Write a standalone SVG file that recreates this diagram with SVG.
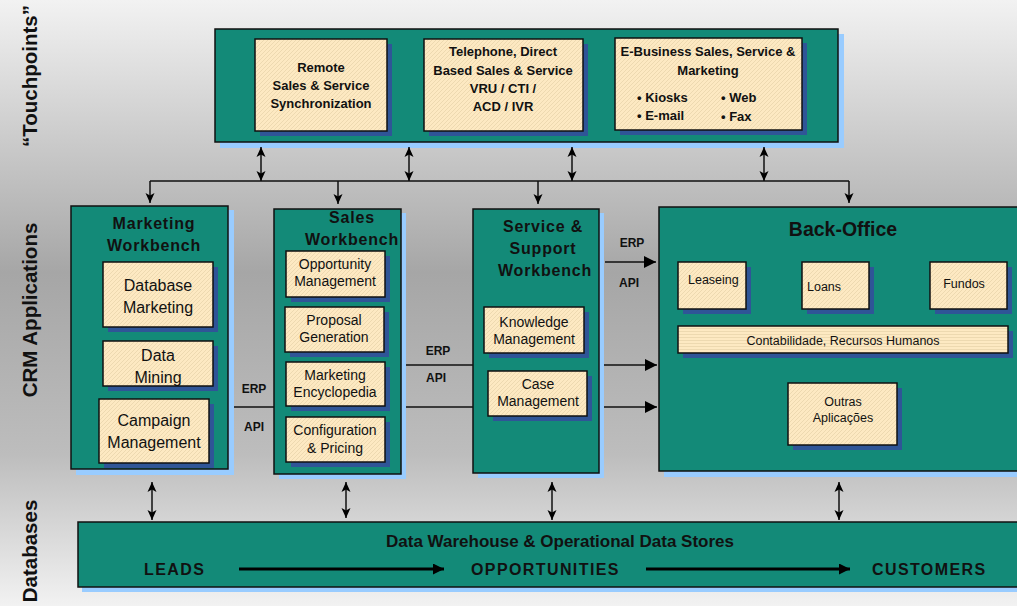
<svg xmlns="http://www.w3.org/2000/svg" width="1017" height="606" viewBox="0 0 1017 606">
<defs>
<linearGradient id="bg" x1="0" y1="0" x2="0" y2="1">
<stop offset="0" stop-color="#f2f2f2"/>
<stop offset="0.45" stop-color="#a6a6a6"/>
<stop offset="0.75" stop-color="#bdbdbd"/>
<stop offset="1" stop-color="#f2f2f2"/>
</linearGradient>
<pattern id="hatch" patternUnits="userSpaceOnUse" width="4" height="4">
<rect width="4" height="4" fill="#fde9c2"/>
<path d="M-1,1 L1,-1 M0,4 L4,0 M3,5 L5,3" stroke="#e9d4ab" stroke-width="0.8"/>
</pattern>
<pattern id="hatchH" patternUnits="userSpaceOnUse" width="8" height="3">
<rect width="8" height="3" fill="#fde9c2"/>
<path d="M0,1.5 L8,1.5" stroke="#e9d4ab" stroke-width="0.8"/>
</pattern>
<marker id="ah" markerUnits="userSpaceOnUse" markerWidth="10" markerHeight="10" refX="10" refY="4.5" orient="auto-start-reverse" viewBox="0 0 10 9">
<path d="M0,0 L10,4.5 L0,9 L2.5,4.5 z" fill="#000"/>
</marker>
<marker id="ahL" markerUnits="userSpaceOnUse" markerWidth="12" markerHeight="12" refX="12" refY="6" orient="auto" viewBox="0 0 12 12">
<path d="M0,0 L12,6 L0,12 z" fill="#000"/>
</marker>
<marker id="ahB" markerUnits="userSpaceOnUse" markerWidth="11" markerHeight="11" refX="11" refY="5.5" orient="auto" viewBox="0 0 11 11">
<path d="M0,0 L11,5.5 L0,11 z" fill="#000"/>
</marker>
<style>
.teal{fill:#138a78;stroke:#111;stroke-width:1.5}
.lshadow{fill:#99ccff}
.dshadow{fill:#2f5597}
.inner{fill:url(#hatch);stroke:#111;stroke-width:1.5}
.innerH{fill:url(#hatchH);stroke:#111;stroke-width:1.5}
text{font-family:"Liberation Sans",Arial,sans-serif;fill:#111}
.tb{font-size:13px;font-weight:bold;text-anchor:middle}
.bul{font-size:13px;font-weight:bold;text-anchor:start}
.ti{font-size:16px;text-anchor:middle}
.ts{font-size:14px;text-anchor:middle}
.title{font-size:16px;font-weight:bold;text-anchor:middle;letter-spacing:0.8px}
.side{font-size:20.5px;font-weight:bold;text-anchor:middle}
.lab{font-size:12px;font-weight:bold;text-anchor:middle}
.bo{font-size:12.5px}
.flow{font-size:16px;font-weight:bold;letter-spacing:1.4px}
.line{stroke:#111;stroke-width:1.5;fill:none}
</style>
</defs>
<rect width="1017" height="606" fill="url(#bg)"/>

<g id="side-labels">
<text class="side" transform="translate(37,76) rotate(-90)">“Touchpoints”</text>
<text class="side" transform="translate(37,310) rotate(-90)">CRM Applications</text>
<text class="side" transform="translate(37,551) rotate(-90)">Databases</text>
</g>

<g id="touchpoints">
<rect class="lshadow" x="220" y="34" width="624" height="114"/>
<rect class="teal" x="215" y="29" width="623" height="113"/>
<g id="remote">
<rect class="dshadow" x="260" y="44" width="132" height="92"/>
<rect class="inner" x="255" y="39" width="132" height="92"/>
<text class="tb" x="321" y="72">Remote</text>
<text class="tb" x="321" y="90">Sales &amp; Service</text>
<text class="tb" x="321" y="108">Synchronization</text>
</g>
<g id="telephone">
<rect class="dshadow" x="429" y="44" width="159" height="92"/>
<rect class="inner" x="424" y="39" width="159" height="92"/>
<text class="tb" x="503" y="56">Telephone, Direct</text>
<text class="tb" x="503" y="75">Based Sales &amp; Service</text>
<text class="tb" x="503" y="93">VRU / CTI /</text>
<text class="tb" x="503" y="111">ACD / IVR</text>
</g>
<g id="ebusiness">
<rect class="dshadow" x="620" y="43" width="187" height="92"/>
<rect class="inner" x="615" y="38" width="187" height="92"/>
<text class="tb" x="708" y="56">E-Business Sales, Service &amp;</text>
<text class="tb" x="708" y="75">Marketing</text>
<text class="bul" x="637" y="102">•  Kiosks</text>
<text class="bul" x="721" y="102">•  Web</text>
<text class="bul" x="637" y="120">•  E-mail</text>
<text class="bul" x="721" y="121">•  Fax</text>
</g>
</g>

<g id="marketing-workbench">
<rect class="lshadow" x="76" y="210" width="158" height="265"/>
<rect class="teal" x="71" y="206" width="157" height="263"/>
<text class="title" x="154" y="229">Marketing</text>
<text class="title" x="154" y="251">Workbench</text>
<rect class="dshadow" x="108" y="267" width="110" height="65"/>
<rect class="inner" x="103" y="262" width="110" height="65"/>
<text class="ti" x="158" y="291">Database</text>
<text class="ti" x="158" y="313">Marketing</text>
<rect class="dshadow" x="108" y="346" width="110" height="45"/>
<rect class="inner" x="103" y="341" width="110" height="45"/>
<text class="ti" x="158" y="361">Data</text>
<text class="ti" x="158" y="383">Mining</text>
<rect class="dshadow" x="104" y="404" width="110" height="64"/>
<rect class="inner" x="99" y="399" width="110" height="64"/>
<text class="ti" x="154" y="426">Campaign</text>
<text class="ti" x="154" y="448">Management</text>
</g>

<g id="sales-workbench">
<rect class="lshadow" x="279" y="213" width="127" height="266"/>
<rect class="teal" x="274" y="209" width="127" height="265"/>
<text class="title" x="352" y="223">Sales</text>
<text class="title" x="352" y="245">Workbench</text>
<rect class="dshadow" x="291" y="256" width="99" height="46"/>
<rect class="inner" x="286" y="251" width="99" height="46"/>
<text class="ts" x="335" y="269">Opportunity</text>
<text class="ts" x="335" y="286">Management</text>
<rect class="dshadow" x="290" y="312" width="99" height="45"/>
<rect class="inner" x="285" y="307" width="99" height="45"/>
<text class="ts" x="334" y="325">Proposal</text>
<text class="ts" x="334" y="342">Generation</text>
<rect class="dshadow" x="291" y="367" width="99" height="44"/>
<rect class="inner" x="286" y="362" width="99" height="44"/>
<text class="ts" x="335" y="380">Marketing</text>
<text class="ts" x="335" y="397">Encyclopedia</text>
<rect class="dshadow" x="291" y="422" width="99" height="45"/>
<rect class="inner" x="286" y="417" width="99" height="45"/>
<text class="ts" x="335" y="435">Configuration</text>
<text class="ts" x="335" y="453">&amp; Pricing</text>
</g>

<g id="service-workbench">
<rect class="lshadow" x="478" y="213" width="126" height="265"/>
<rect class="teal" x="473" y="209" width="126" height="264"/>
<text class="title" x="543" y="232">Service &amp;</text>
<text class="title" x="543" y="254">Support</text>
<text class="title" x="545" y="276">Workbench</text>
<rect class="dshadow" x="489" y="312" width="100" height="46"/>
<rect class="inner" x="484" y="307" width="100" height="46"/>
<text class="ts" x="534" y="327">Knowledge</text>
<text class="ts" x="534" y="344">Management</text>
<rect class="dshadow" x="493" y="376" width="99" height="45"/>
<rect class="inner" x="488" y="371" width="99" height="45"/>
<text class="ts" x="538" y="389">Case</text>
<text class="ts" x="538" y="406">Management</text>
</g>

<g id="back-office">
<rect class="lshadow" x="664" y="211" width="360" height="266"/>
<rect class="teal" x="659" y="207" width="365" height="264"/>
<text x="843" y="236" font-size="19.5" font-weight="bold" text-anchor="middle">Back-Office</text>
<rect class="dshadow" x="683" y="267" width="68" height="47"/>
<rect class="inner" x="678" y="262" width="68" height="47"/>
<text class="bo" x="688" y="284">Leaseing</text>
<rect class="dshadow" x="807" y="267" width="67" height="47"/>
<rect class="inner" x="802" y="262" width="67" height="47"/>
<text class="bo" x="807" y="291">Loans</text>
<rect class="dshadow" x="935" y="267" width="77" height="47"/>
<rect class="inner" x="930" y="262" width="77" height="47"/>
<text class="bo" x="964" y="288" text-anchor="middle">Fundos</text>
<rect class="dshadow" x="683" y="331" width="330" height="27"/>
<rect class="innerH" x="678" y="326" width="330" height="27"/>
<text class="bo" x="843" y="345" text-anchor="middle">Contabilidade, Recursos Humanos</text>
<rect class="dshadow" x="793" y="388" width="109" height="62"/>
<rect class="inner" x="788" y="383" width="109" height="62"/>
<text class="bo" x="843" y="406" text-anchor="middle">Outras</text>
<text class="bo" x="843" y="422" text-anchor="middle">Aplicações</text>
</g>

<g id="data-warehouse">
<rect class="lshadow" x="82" y="527" width="945" height="65"/>
<rect class="teal" x="78" y="522" width="950" height="65"/>
<text x="560" y="547" font-size="17" font-weight="bold" text-anchor="middle">Data Warehouse &amp; Operational Data Stores</text>
<text class="flow" x="144" y="575">LEADS</text>
<text class="flow" x="471" y="575">OPPORTUNITIES</text>
<text class="flow" x="872" y="575">CUSTOMERS</text>
</g>

<g id="connectors">
<path class="line" d="M150,181 H849"/>
<line class="line" x1="261" y1="147" x2="261" y2="181" marker-start="url(#ah)" marker-end="url(#ah)"/>
<line class="line" x1="409" y1="147" x2="409" y2="181" marker-start="url(#ah)" marker-end="url(#ah)"/>
<line class="line" x1="572" y1="147" x2="572" y2="181" marker-start="url(#ah)" marker-end="url(#ah)"/>
<line class="line" x1="764" y1="147" x2="764" y2="181" marker-start="url(#ah)" marker-end="url(#ah)"/>
<line class="line" x1="150" y1="181" x2="150" y2="203" marker-end="url(#ah)"/>
<line class="line" x1="338" y1="181" x2="338" y2="204" marker-end="url(#ah)"/>
<line class="line" x1="538" y1="181" x2="538" y2="204" marker-end="url(#ah)"/>
<line class="line" x1="849" y1="181" x2="849" y2="203" marker-end="url(#ah)"/>

<line class="line" x1="234" y1="407" x2="274" y2="407"/>
<text class="lab" x="254" y="393">ERP</text>
<text class="lab" x="254" y="431">API</text>

<line class="line" x1="406" y1="365" x2="473" y2="365"/>
<line class="line" x1="406" y1="407" x2="473" y2="407"/>
<text class="lab" x="438" y="355">ERP</text>
<text class="lab" x="436" y="382">API</text>

<line class="line" x1="605" y1="262" x2="656" y2="262" marker-end="url(#ahL)"/>
<line class="line" x1="604" y1="365" x2="657" y2="365" marker-end="url(#ahL)"/>
<line class="line" x1="604" y1="407" x2="657" y2="407" marker-end="url(#ahL)"/>
<text class="lab" x="632" y="247">ERP</text>
<text class="lab" x="629" y="287">API</text>

<line class="line" x1="152" y1="482" x2="152" y2="520" marker-start="url(#ah)" marker-end="url(#ah)"/>
<line class="line" x1="346" y1="482" x2="346" y2="518" marker-start="url(#ah)" marker-end="url(#ah)"/>
<line class="line" x1="552" y1="482" x2="552" y2="520" marker-start="url(#ah)" marker-end="url(#ah)"/>
<line class="line" x1="839" y1="482" x2="839" y2="520" marker-start="url(#ah)" marker-end="url(#ah)"/>

<line x1="239" y1="569" x2="444" y2="569" stroke="#000" stroke-width="3" marker-end="url(#ahB)"/>
<line x1="646" y1="569" x2="850" y2="569" stroke="#000" stroke-width="3" marker-end="url(#ahB)"/>
</g>
</svg>
